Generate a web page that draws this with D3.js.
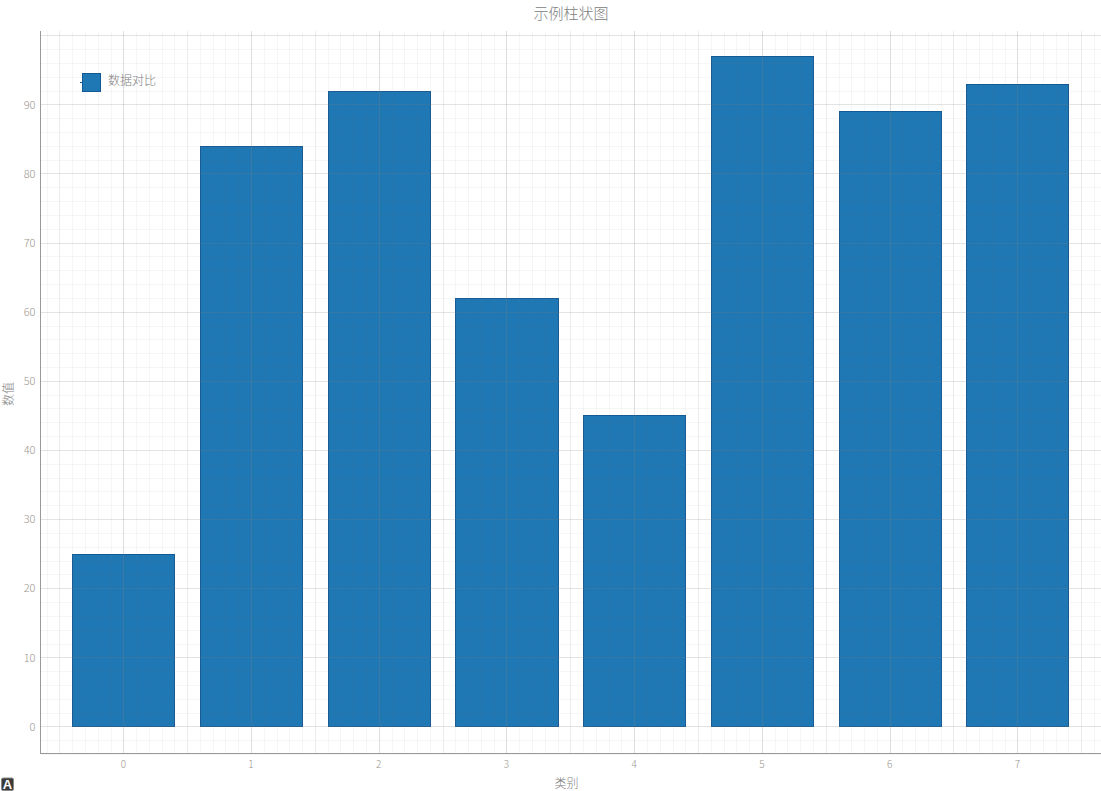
<!DOCTYPE html>
<html><head><meta charset="utf-8">
<script src="https://cdn.jsdelivr.net/npm/d3@7"></script>
<style>html,body{margin:0;background:#fff;overflow:hidden}svg{display:block}text{font-family:"Noto Sans CJK SC","Noto Sans",sans-serif;font-weight:300}</style>
</head><body><svg id="c" width="1101" height="791"></svg>
<script>
const categories=[0,1,2,3,4,5,6,7];
const values=[25,84,92,62,45,97,89,93];
const seriesName="数据对比";
const chartTitle="示例柱状图";
const xTitle="类别";
const yTitle="数值";
const yTickValues=[0,10,20,30,40,50,60,70,80,90];

const svg=d3.select("#c");
const L=40.5,R=1100.5,T=30.5,B=753.5;
const x=d3.scaleLinear().domain([-0.6483,7.651]).range([L,R]);
const y=d3.scaleLinear().domain([-3.913,100.687]).range([B,T]);
const barW=x(0.8)-x(0);
const px=v=>Math.round(v)+.5;
const near=(v,s)=>Math.abs(v/s-Math.round(v/s))<1e-6;

// bars below grid
svg.append("g").selectAll("rect").data(values).join("rect")
  .attr("x",(d,i)=>px(x(categories[i])-barW/2))
  .attr("width",(d,i)=>px(x(categories[i])+barW/2)-px(x(categories[i])-barW/2))
  .attr("y",d=>px(y(d)))
  .attr("height",d=>px(y(0))-px(y(d)))
  .attr("fill","#1f77b4").attr("stroke","#135a94").attr("stroke-width",1);

// grid
const g=svg.append("g").attr("shape-rendering","crispEdges");
const xMin=d3.range(-6,77).map(v=>v/10);
const yMin=d3.range(-2,51).map(v=>v*2);
g.selectAll(".vm").data(xMin).join("line")
  .attr("x1",d=>px(x(d))).attr("x2",d=>px(x(d))).attr("y1",T).attr("y2",B)
  .attr("stroke","#808080")
  .attr("stroke-opacity",d=>near(d,1)?0.26:near(d,0.5)?0.15:0.07);
g.selectAll(".hm").data(yMin).join("line")
  .attr("y1",d=>px(y(d))).attr("y2",d=>px(y(d))).attr("x1",L).attr("x2",R)
  .attr("stroke","#808080")
  .attr("stroke-opacity",d=>near(d,10)?0.22:0.07);

// axes
const xAxis=d3.axisBottom(x).tickValues(categories).tickSize(0).tickPadding(0).tickFormat(d3.format("d"));
const yAxis=d3.axisLeft(y).tickValues(yTickValues).tickSize(0).tickPadding(0).tickFormat(d3.format("d"));
const ax=svg.append("g").attr("transform",`translate(-0.5,${B-1})`).call(xAxis);
const ay=svg.append("g").attr("transform",`translate(${L-1},-0.5)`).call(yAxis);
ax.select(".domain").attr("stroke","#999").attr("shape-rendering","crispEdges");
ay.select(".domain").attr("stroke","#999").attr("shape-rendering","crispEdges");
ax.selectAll("text").attr("y",8).attr("dy","0.71em").attr("fill","#9a958e").attr("font-size",10);
ay.selectAll("text").attr("x",-4).attr("dy","0.38em").attr("fill","#9a958e").attr("font-size",11);

// titles
svg.append("text").attr("x",571).attr("y",19).attr("text-anchor","middle").attr("font-size",15).attr("fill","#808080").text(chartTitle);
svg.append("text").attr("x",566.5).attr("y",788).attr("text-anchor","middle").attr("font-size",12).attr("fill","#808080").text(xTitle);
svg.append("text").attr("transform","translate(12.5,394) rotate(-90)").attr("text-anchor","middle").attr("font-size",12).attr("fill","#808080").text(yTitle);

// legend
svg.append("line").attr("x1",80).attr("x2",82).attr("y1",82.5).attr("y2",82.5).attr("stroke","#135a94");
svg.append("rect").attr("x",82.5).attr("y",73.5).attr("width",18).attr("height",18).attr("fill","#1f77b4").attr("stroke","#135a94");
svg.append("text").attr("x",108).attr("y",85).attr("font-size",12).attr("fill","#808080").text(seriesName);

// small badge bottom-left
svg.append("rect").attr("x",1.5).attr("y",778).attr("width",12).attr("height",12.5).attr("rx",1.5).attr("fill","#3a3a3a").attr("stroke","#8a8a8a");
svg.append("text").attr("x",7.5).attr("y",789).attr("text-anchor","middle").attr("font-size",13).attr("fill","#fff").attr("style","font-family:'Liberation Sans';font-weight:700").text("A");
</script></body></html>
